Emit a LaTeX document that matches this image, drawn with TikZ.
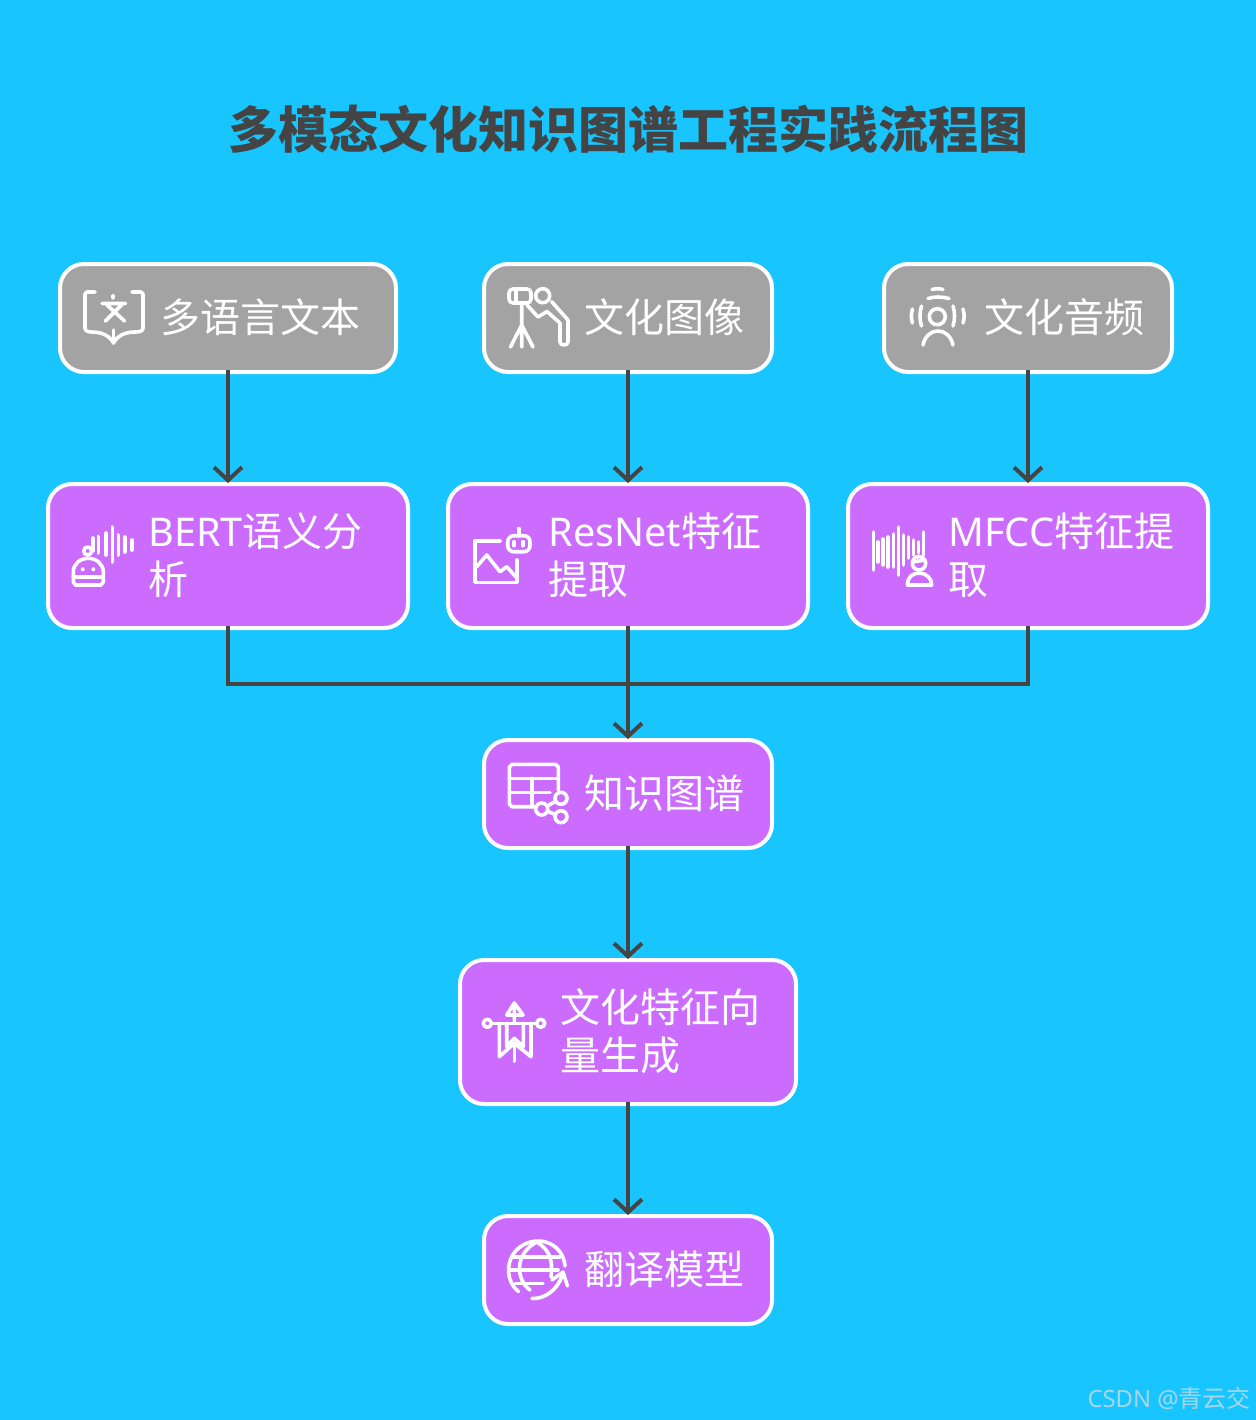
\documentclass[tikz,border=0pt]{standalone}
\usepackage{fontspec}
\setmainfont{Noto Sans CJK SC}
\newfontfamily\en[Scale=0.99]{Noto Sans}
\usetikzlibrary{arrows.meta}
\definecolor{bgblue}{HTML}{19C5FF}
\definecolor{srcgray}{HTML}{A3A3A3}
\definecolor{procpurple}{HTML}{CC6CFF}
\definecolor{inkgray}{HTML}{444444}
\definecolor{markgray}{HTML}{A6D6E8}
\tikzset{
  box/.style={draw=white, line width=2pt, rounded corners=12pt, inner sep=0pt},
  srcbox/.style={box, fill=srcgray},
  procbox/.style={box, fill=procpurple},
  boxlabel/.style={anchor=west, align=left, inner sep=0pt, text=white, font=\fontsize{20}{24}\selectfont},
  flow/.style={draw=inkgray, line width=2pt, shorten <=-2pt, shorten >=-0.5pt, -{Straight Barb[length=6.5pt,width=14pt,line width=2pt]}},
  merge/.style={draw=inkgray, line width=2pt, shorten <=-2pt},
  icon/.style={draw=white, line width=1.8pt, line cap=round, line join=round},
}
\begin{document}
\begin{tikzpicture}[x=0.5pt, y=-0.5pt]
  \useasboundingbox (0,0) rectangle (1256,1420);
  \fill[bgblue] (0,0) rectangle (1256,1420);
  \node (title) at (628,129) [text=inkgray, inner sep=0pt, font=\fontsize{25}{30}\selectfont\bfseries] {多模态文化知识图谱工程实践流程图};

  % boxes
  \node (srctext) at (228,318) [srcbox, minimum width=168pt, minimum height=54pt] {};
  \node (srcimage) at (628,318) [srcbox, minimum width=144pt, minimum height=54pt] {};
  \node (srcaudio) at (1028,318) [srcbox, minimum width=144pt, minimum height=54pt] {};
  \node (bert) at (228,556) [procbox, minimum width=180pt, minimum height=72pt] {};
  \node (resnet) at (628,556) [procbox, minimum width=180pt, minimum height=72pt] {};
  \node (mfcc) at (1028,556) [procbox, minimum width=180pt, minimum height=72pt] {};
  \node (graph) at (628,794) [procbox, minimum width=144pt, minimum height=54pt] {};
  \node (vector) at (628,1032) [procbox, minimum width=168pt, minimum height=72pt] {};
  \node (model) at (628,1270) [procbox, minimum width=144pt, minimum height=54pt] {};

  % labels
  \node (srctextlabel) at (160,317) [boxlabel] {多语言文本};
  \node (srcimagelabel) at (584,317) [boxlabel] {文化图像};
  \node (srcaudiolabel) at (984,317) [boxlabel] {文化音频};
  \node (bertlabel) at (148,555) [boxlabel] {{\en BERT}语义分\\析};
  \node (resnetlabel) at (548,555) [boxlabel] {{\en ResNet}特征\\提取};
  \node (mfcclabel) at (948,555) [boxlabel] {{\en MFCC}特征提\\取};
  \node (graphlabel) at (584,793) [boxlabel] {知识图谱};
  \node (vectorlabel) at (560,1031) [boxlabel] {文化特征向\\量生成};
  \node (modellabel) at (584,1269) [boxlabel] {翻译模型};

  % connectors
  \coordinate (join) at (628,684);
  \foreach \source/\dest in {srctext/bert, srcimage/resnet, srcaudio/mfcc, graph/vector, vector/model}
    \path (\source) edge[flow] (\dest);
  \draw[merge] (bert) |- (join);
  \draw[merge] (mfcc) |- (join);
  \draw[merge] (resnet) -- (join);
  \draw[flow, shorten <=0pt] (join) -- (graph);

  % book icon
  \draw[icon] (95,292) -- (87,292) -- (85,294) -- (85,328) .. controls (85,331) and (88,332) .. (92,332) .. controls (102,332) and (110,336) .. (113.5,343) .. controls (117,336) and (125,332) .. (135,332) .. controls (140,332) and (143,331) .. (143,328) -- (143,294) -- (141,292) -- (132,292);
  \draw[icon] (113.5,343) -- (113.5,330);
  \draw[icon] (113,295.5) -- (113,298) (102,303.5) -- (125.5,303.5) (107,305) -- (124.5,321) (121.5,305) -- (105.5,321);

  % observer icon
  \draw[icon, rounded corners=2pt] (509,289) rectangle (531,303);
  \draw[icon] (516,289) -- (516,302.5);
  \draw[icon] (521.7,303) -- (521.7,325) (521.7,325) -- (510.5,347) (521.7,325) -- (521.7,347) (521.7,325) -- (533,347);
  \draw[icon] (542.7,295.7) circle[radius=7];
  \draw[icon] (527,305) -- (538,317) -- (547,311.5) -- (560,323) -- (560,342) .. controls (560,346) and (568,346) .. (568,342) -- (568,320) -- (551.7,301.7);

  % listener icon
  \draw[icon] (932,289.5) .. controls (936,288.5) and (940,288.5) .. (943,289.5);
  \draw[icon] (928,298.5) .. controls (934,296.5) and (942,296.5) .. (949,298.5);
  \draw[icon] (937.3,316.7) circle[radius=8];
  \draw[icon] (921.5,306) .. controls (919.5,312) and (919.5,320) .. (921.5,326);
  \draw[icon] (912.5,309) .. controls (911,314) and (911,319) .. (912.5,323);
  \draw[icon] (953,306) .. controls (955,312) and (955,320) .. (953,326);
  \draw[icon] (963,309) .. controls (964.5,314) and (964.5,319) .. (963,323);
  \draw[icon] (923,345) .. controls (925,336) and (931,331) .. (938,331) .. controls (945,331) and (951,336) .. (953,345);

  % speech robot icon
  \foreach \x/\a/\b in {92.7/538/551, 98.3/536.5/553, 105.7/533/555, 112.3/527/562, 118.3/535/555, 125/537/552, 131.7/540/550}
    \draw[icon] (\x,\a) -- (\x,\b);
  \draw[icon] (73.3,572) .. controls (73.3,564) and (80,558.3) .. (88.3,558.3) .. controls (96.5,558.3) and (103.3,564) .. (103.3,572) -- (103.3,582) -- (101,585) -- (75.5,585) -- (73.3,582) -- cycle;
  \draw[icon] (73.3,576.7) -- (103.3,576.7);
  \draw[icon] (87.7,551) circle[radius=4];
  \fill[white] (82.7,569.3) circle[radius=2] (93.3,569.3) circle[radius=2];

  % picture robot icon
  \draw[icon] (500,540.7) -- (475,540.7) -- (475,582.3) -- (516.7,582.3) -- (516.7,560);
  \draw[icon] (476.7,566.7) -- (486.7,555) -- (500,571.7) -- (506.7,566.7) -- (515.7,576.7);
  \draw[icon, rounded corners=3pt] (507.7,535.7) rectangle (530,551.7);
  \draw[icon] (518.7,528.5) -- (518.7,535.7) (514,541.7) -- (514,545.7) (523,541.7) -- (523,545.7);

  % voice print icon
  \foreach \x/\a/\b in {873.3/532/570, 877.7/542/562, 882.7/539/565, 887.7/537/567, 893.3/534/567, 898.3/527/575, 903.3/535/565, 908.3/537/558, 913.3/540/555, 918.3/542/553, 923.3/532/555}
    \draw[icon] (\x,\a) -- (\x,\b);
  \draw[icon, fill=procpurple] (919,563.3) circle[radius=6.7];
  \draw[icon] (912.5,562) -- (925,560);
  \draw[icon] (907.3,585) .. controls (907.3,578) and (912,573) .. (919,573) .. controls (926,573) and (931.7,578) .. (931.7,585) -- cycle;

  % table graph icon
  \draw[icon] (535,806.7) -- (512,806.7) -- (509.3,804) -- (509.3,767) -- (512,764.3) -- (555.5,764.3) -- (558.3,767) -- (558.3,790);
  \draw[icon] (509.3,778.3) -- (558.3,778.3) (509.3,792.3) -- (550,792.3) (531.7,778.3) -- (531.7,806.7);
  \draw[icon] (541.7,809) -- (561,798.3) (541.7,809) -- (561,816.7);
  \draw[icon, fill=procpurple] (561,798.3) circle[radius=6] (541.7,809) circle[radius=6] (561,816.7) circle[radius=6];

  % banner icon
  \draw[icon] (499.3,1023.3) -- (499.3,1056.7) -- (514.3,1043.3) -- (531,1056.7) -- (531,1023.3);
  \draw[icon] (506.7,1023.3) -- (506.7,1046.7) -- (514.3,1038.3) -- (523.3,1046.7) -- (523.3,1023.3);
  \draw[icon] (491.5,1023.3) -- (537,1023.3);
  \draw[icon] (487.3,1023.3) circle[radius=4] (540.7,1023.3) circle[radius=4];
  \draw[icon] (514.3,1004) -- (514.3,1023.3) (506.7,1015) -- (514.3,1003) -- (523,1015) -- cycle;
  \draw[icon] (514.3,1043.3) -- (514.3,1061);

  % globe icon
  \draw[icon] (518.5,1291.5) .. controls (505,1281) and (505,1258) .. (520,1247) .. controls (538,1234) and (563,1243) .. (565,1266);
  \draw[icon] (536.7,1242) .. controls (514,1254) and (516,1280) .. (530,1290);
  \draw[icon] (536.7,1242) .. controls (550,1250) and (553,1260) .. (551,1277);
  \draw[icon] (513,1256.7) -- (560,1256.7) (510,1270) -- (558,1270) (515,1283.3) -- (543,1283.3);
  \draw[icon] (532,1298.5) .. controls (545,1299) and (558,1290) .. (563,1273);
  \draw[icon] (552,1280) -- (563,1272) -- (567.5,1286);

  % watermark
  \node (mark) at (1251,1398) [anchor=east, inner sep=0pt, text=markgray, font=\fontsize{12}{14}\selectfont] {{\en CSDN @}青云交};
\end{tikzpicture}
\end{document}
